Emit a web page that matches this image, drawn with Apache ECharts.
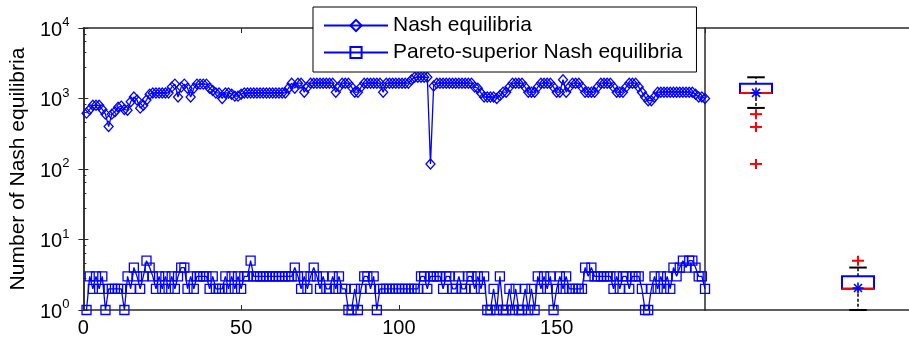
<!DOCTYPE html>
<html><head><meta charset="utf-8">
<script src="https://cdn.jsdelivr.net/npm/echarts@6/dist/echarts.min.js"></script>
<style>html,body{margin:0;padding:0;background:#fff}#c{width:909px;height:340px}</style>
</head><body><div id="c"></div>
<script>
// Sample index runs 1..197
const nash = [
 620,700,800,800,800,700,600,400,600,650,
 750,780,700,680,900,1050,950,730,800,950,
 1150,1200,1200,1200,1200,1200,1200,1450,1600,1050,
 1450,1600,1400,1050,1400,1600,1600,1600,1600,1400,
 1300,1200,1200,1000,1200,1200,1150,1080,1080,1150,
 1200,1200,1200,1200,1200,1200,1200,1200,1200,1200,
 1200,1200,1200,1200,1400,1650,1400,1650,1650,1230,
 1450,1650,1650,1650,1650,1650,1650,1650,1650,1230,
 1450,1650,1650,1650,1450,1230,1230,1450,1650,1650,
 1650,1650,1650,1650,1230,1650,1650,1650,1650,1650,
 1650,1650,1650,1850,2000,2000,2000,2000,2000,118,
 1500,1650,1650,1650,1650,1650,1650,1650,1650,1650,
 1650,1650,1650,1450,1400,1200,1050,1050,1050,1050,
 1000,1100,1230,1230,1450,1650,1650,1650,1650,1450,
 1230,1230,1230,1450,1650,1650,1650,1650,1450,1230,
 1230,1850,1230,1450,1650,1650,1650,1450,1230,1230,
 1230,1230,1450,1650,1650,1650,1650,1450,1230,1230,
 1230,1450,1650,1650,1650,1450,1230,1050,930,930,
 1050,1230,1230,1230,1230,1230,1230,1230,1230,1230,
 1230,1230,1230,1150,1050,1050,1000
];
const pareto = [
 1,3,2,3,2,3,1,2,2,2,
 2,2,1,3,2,4,3,2,3,5,
 4,3,2,3,2,3,2,3,2,3,
 4,4,2,3,2,3,3,3,3,2,
 3,2,2,2,3,2,3,2,3,2,
 3,3,5,3,3,3,3,3,3,3,
 3,3,3,3,3,3,4,3,2,3,
 2,3,4,3,2,3,2,2,3,2,
 3,2,2,1,1,2,1,2,3,3,
 2,3,1,2,2,2,2,2,2,2,
 2,2,2,2,2,2,3,3,2,3,
 3,3,3,2,3,3,2,2,3,2,
 2,3,3,2,3,2,3,1,1,2,
 1,3,1,1,2,1,2,1,1,2,
 1,2,1,3,2,3,2,3,1,2,
 3,2,3,2,2,2,2,2,4,3,
 4,3,3,3,3,3,3,2,3,2,
 3,3,2,3,3,3,2,1,1,2,
 3,2,3,2,3,2,4,3,4,5,
 4,5,5,4,3,3,2
];
const seriesNames = ['Nash equilibria', 'Pareto-superior Nash equilibria'];
// box plot statistics
const boxGroups = ['Nash equilibria', 'Pareto-superior Nash equilibria'];
const boxLow  = [735, 1];
const boxQ1   = [1200, 2];
const boxMed  = [1200, 2];
const boxQ3   = [1620, 3];
const boxHigh = [2000, 4];
const boxMean = [1200, 2.05];
const outlierGroup = [0, 0, 0, 1];
const outlierValue = [600, 395, 118, 5];

const FONT = '"Liberation Sans", Arial, Helvetica, sans-serif';
const AX = '#2a2a2a';
const BLUE = '#0000ff';

const chart = echarts.init(document.getElementById('c'), null, {renderer: 'canvas'});

const axLine = {show: true, lineStyle: {color: AX, width: 1.5}};
const supFmt = v => '{b|10}{s|' + Math.round(Math.log10(v)) + '}';

const option = {
  animation: false,
  backgroundColor: '#fff',
  textStyle: {fontFamily: FONT},
  grid: [
    {left: 81, top: 28, width: 624, height: 282},
    {left: 705, top: 28, width: 210, height: 282}
  ],
  legend: {
    left: 313, top: 7, orient: 'vertical',
    padding: [8, 14, 9, 10], itemGap: 6, itemWidth: 64, itemHeight: 14,
    backgroundColor: '#fff', borderColor: '#000', borderWidth: 1,
    textStyle: {fontSize: 21, color: '#000', fontFamily: FONT},
    data: seriesNames
  },
  xAxis: [
    {gridIndex: 0, type: 'value', min: 0, max: 197, interval: 50, position: 'bottom',
     axisLine: axLine, axisTick: {inside: true, length: 5, lineStyle: {color: AX}},
     axisLabel: {fontSize: 20, color: '#000', margin: 8, showMaxLabel: false, fontFamily: FONT},
     splitLine: {show: false}},
    {gridIndex: 0, type: 'value', min: 0, max: 197, interval: 50, position: 'top',
     axisLine: axLine, axisTick: {inside: true, length: 5, lineStyle: {color: AX}},
     axisLabel: {show: false}, splitLine: {show: false}},
    {gridIndex: 1, type: 'category', data: boxGroups, position: 'bottom',
     axisLine: axLine, axisTick: {inside: true, alignWithLabel: true, length: 5, lineStyle: {color: AX}},
     axisLabel: {show: false}},
    {gridIndex: 1, type: 'category', data: boxGroups, position: 'top',
     axisLine: axLine, axisTick: {inside: true, alignWithLabel: true, length: 5, lineStyle: {color: AX}},
     axisLabel: {show: false}}
  ],
  yAxis: [
    {gridIndex: 0, type: 'log', logBase: 10, min: 1, max: 10000, position: 'left',
     name: 'Number of Nash equilibria', nameLocation: 'middle', nameGap: 54,
     nameTextStyle: {fontSize: 21, color: '#000', fontFamily: FONT},
     axisLine: axLine, axisTick: {inside: true, length: 5, lineStyle: {color: AX}},
     minorTick: {show: true, length: 3, lineStyle: {color: AX}},
     axisLabel: {margin: 14, formatter: supFmt, color: '#000',
       rich: {b: {fontSize: 20, lineHeight: 24, verticalAlign: 'bottom', fontFamily: FONT, color: '#000'},
              s: {fontSize: 13, lineHeight: 13, verticalAlign: 'top', fontFamily: FONT, color: '#000'}}},
     splitLine: {show: false}},
    {gridIndex: 0, type: 'log', logBase: 10, min: 1, max: 10000, position: 'right',
     axisLine: axLine, axisTick: {inside: true, length: 5, lineStyle: {color: AX}},
     axisLabel: {show: false}, splitLine: {show: false}},
    {gridIndex: 1, type: 'log', logBase: 10, min: 1, max: 10000, position: 'left',
     axisLine: axLine, axisTick: {show: false}, axisLabel: {show: false}, splitLine: {show: false}}
  ],
  series: [
    {name: seriesNames[0], type: 'line', xAxisIndex: 0, yAxisIndex: 0,
     data: nash.map((v, i) => [i + 1, v]),
     symbol: 'diamond', symbolSize: [9, 10], showAllSymbol: true, z: 3,
     lineStyle: {color: BLUE, width: 1.3},
     itemStyle: {color: 'rgba(255,255,255,0)', borderColor: BLUE, borderWidth: 1.3}},
    {name: seriesNames[1], type: 'line', xAxisIndex: 0, yAxisIndex: 0,
     data: pareto.map((v, i) => [i + 1, v]),
     symbol: 'rect', symbolSize: 9, showAllSymbol: true, z: 3,
     lineStyle: {color: BLUE, width: 1.3},
     itemStyle: {color: 'rgba(255,255,255,0)', borderColor: BLUE, borderWidth: 1.3}},
    {type: 'custom', xAxisIndex: 2, yAxisIndex: 2, z: 4,
     data: boxGroups.map((g, i) => [i, boxLow[i], boxQ1[i], boxMed[i], boxQ3[i], boxHigh[i], boxMean[i]]),
     renderItem: function (params, api) {
       const c = api.value(0);
       const pLow = api.coord([c, api.value(1)]);
       const pQ1 = api.coord([c, api.value(2)]);
       const pMed = api.coord([c, api.value(3)]);
       const pQ3 = api.coord([c, api.value(4)]);
       const pHigh = api.coord([c, api.value(5)]);
       const pMean = api.coord([c, api.value(6)]);
       const band = Math.abs(api.coord([1, 10])[0] - api.coord([0, 10])[0]);
       const x = pMed[0];
       const hb = band * 0.157, hc = band * 0.086;
       const dash = {stroke: '#000', lineWidth: 1.5, lineDash: [3, 2]};
       const cap = {stroke: '#000', lineWidth: 2};
       const ln = (x1, y1, x2, y2, style) => ({type: 'line', shape: {x1, y1, x2, y2}, style});
       const ch = [
         ln(x, pQ3[1], x, pHigh[1], dash),
         ln(x, pQ1[1], x, pLow[1], dash),
         ln(x - hc, pHigh[1], x + hc, pHigh[1], cap),
         ln(x - hc, pLow[1], x + hc, pLow[1], cap),
         {type: 'rect', shape: {x: x - hb, y: pQ3[1], width: 2 * hb, height: pQ1[1] - pQ3[1]},
          style: {fill: 'none', stroke: BLUE, lineWidth: 2}},
         ln(x - hb, pMed[1], x + hb, pMed[1], {stroke: '#ff0000', lineWidth: 2}),
       ];
       const my = pMean[1], r = 5.5, d = 4;
       const st = {stroke: BLUE, lineWidth: 1.6};
       ch.push(ln(x, my - r, x, my + r, st), ln(x - r, my, x + r, my, st),
               ln(x - d, my - d, x + d, my + d, st), ln(x - d, my + d, x + d, my - d, st));
       return {type: 'group', children: ch};
     }},
    {type: 'custom', xAxisIndex: 2, yAxisIndex: 2, z: 4,
     data: outlierGroup.map((g, i) => [g, outlierValue[i]]),
     renderItem: function (params, api) {
       const p = api.coord([api.value(0), api.value(1)]);
       const st = {stroke: '#ff0000', lineWidth: 2};
       return {type: 'group', children: [
         {type: 'line', shape: {x1: p[0] - 6, y1: p[1], x2: p[0] + 6, y2: p[1]}, style: st},
         {type: 'line', shape: {x1: p[0], y1: p[1] - 5, x2: p[0], y2: p[1] + 5}, style: st}
       ]};
     }}
  ]
};
chart.setOption(option);
</script>
</body></html>
